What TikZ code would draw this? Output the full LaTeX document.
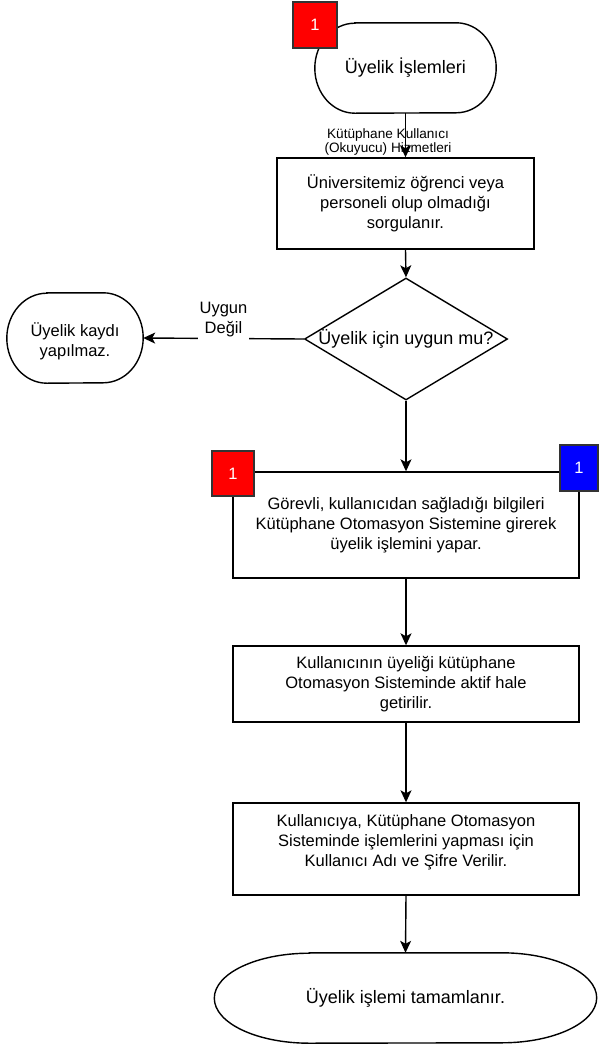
\documentclass[tikz,border=0pt]{standalone}
\usepackage{fontspec}
\setmainfont{Liberation Sans}
\usetikzlibrary{arrows.meta,shapes.geometric}
\tikzset{
  line/.style={draw=black, line width=1.4pt},
  arrow/.style={line, -{Stealth[length=12pt,width=11pt,inset=3pt]}},
  txt/.style={font=\fontsize{16.5}{20}\selectfont, align=center, inner sep=0pt},
  bigtxt/.style={txt, font=\fontsize{18}{22}\selectfont},
  stepbox/.style={line, txt, rectangle, fill=white},
  decision/.style={line, diamond, inner sep=0pt, fill=white},
  ghost/.style={txt, draw=none},
  tag/.style={draw=black!80, line width=1.4pt, inner sep=0pt, text=white,
              font=\fontsize{16.5}{20}\selectfont},
  redtag/.style={tag, fill={rgb,255:red,255;green,0;blue,0}},
  bluetag/.style={tag, fill={rgb,255:red,0;green,0;blue,255}},
  small/.style={font=\fontsize{13.6}{12.5}\selectfont, align=center, inner sep=0pt},
  elabel/.style={txt, fill=white, inner xsep=1.5pt, inner ysep=3pt},
}
\begin{document}
\begin{tikzpicture}[x=1pt,y=-1pt]
\useasboundingbox (0,0) rectangle (598,1045);

% top terminal
\node[ghost, bigtxt, minimum width=181pt, minimum height=90pt] (t0) at (405.5,68) {Üyelik İşlemleri};
\draw[line] ([xshift=40pt]t0.north west) -- ([xshift=-40pt]t0.north east)
  arc[start angle=90,end angle=-90,x radius=40pt,y radius=45pt]
  -- ([xshift=40pt]t0.south west)
  arc[start angle=270,end angle=90,x radius=40pt,y radius=45pt] -- cycle;
\node[redtag, minimum width=44pt, minimum height=46pt] (tag0) at (315,25) {1};

% label
\node[small] (lab) at (388,142) {Kütüphane Kullanıcı\\(Okuyucu) Hizmetleri};

% box 1
\node[stepbox, minimum width=257pt, minimum height=91pt] (b1) at (405.5,203.5)
  {Üniversitemiz öğrenci veya\\personeli olup olmadığı\\sorgulanır.};

% decision
\node[decision, minimum width=203pt, minimum height=122pt,
      label={[bigtxt, name=dect]center:Üyelik için uygun mu?}] (dec) at (406,339) {};

% left stadium
\node[ghost, minimum width=136pt, minimum height=90pt] (ls) at (75,338) {};
\node[txt] (lst) at (75,341) {Üyelik kaydı\\yapılmaz.};
\draw[line] ([xshift=40pt]ls.north west) -- ([xshift=-40pt]ls.north east)
  arc[start angle=90,end angle=-90,x radius=40pt,y radius=45pt]
  -- ([xshift=40pt]ls.south west)
  arc[start angle=270,end angle=90,x radius=40pt,y radius=45pt] -- cycle;

% box 2
\node[stepbox, minimum width=346pt, minimum height=106pt] (b2) at (406,525)
  {Görevli, kullanıcıdan sağladığı bilgileri\\Kütüphane Otomasyon Sistemine girerek\\üyelik işlemini yapar.};
\node[redtag, minimum width=42pt, minimum height=45pt] (tag1) at (233,473.5) {1};
\node[bluetag, minimum width=38pt, minimum height=46pt] (tag2) at (579,468) {1};

% box 3
\node[stepbox, minimum width=346pt, minimum height=76pt] (b3) at (406,684)
  {Kullanıcının üyeliği kütüphane\\Otomasyon Sisteminde aktif hale\\getirilir.};

% box 4
\node[line, rectangle, fill=white, minimum width=346pt, minimum height=92pt] (b4) at (406,849) {};
\node[txt] (b4t) at (406,842)
  {Kullanıcıya, Kütüphane Otomasyon\\Sisteminde işlemlerini yapması için\\Kullanıcı Adı ve Şifre Verilir.};

% final terminal
\node[ghost, bigtxt, minimum width=382pt, minimum height=90pt] (fin) at (405.5,998)
  {Üyelik işlemi tamamlanır.};
\draw[line] ([xshift=95pt]fin.north west) -- ([xshift=-95pt]fin.north east)
  arc[start angle=90,end angle=-90,x radius=95pt,y radius=45pt]
  -- ([xshift=95pt]fin.south west)
  arc[start angle=270,end angle=90,x radius=95pt,y radius=45pt] -- cycle;

% connectors
\draw[arrow] (t0.south) -- (b1.north);
\draw[arrow] (b1.south) -- (dec.north);
\draw[arrow] (dec.west) -- (ls.east)
  node[elabel, pos=0.5, yshift=19pt] (ul) {Uygun\\Değil};
\draw[arrow] (dec.south) -- (b2.north);
\draw[arrow] (b2.south) -- (b3.north);
\draw[arrow] (b3.south) -- (b4.north);
\draw[arrow] (b4.south) -- (fin.north);
\end{tikzpicture}
\end{document}
